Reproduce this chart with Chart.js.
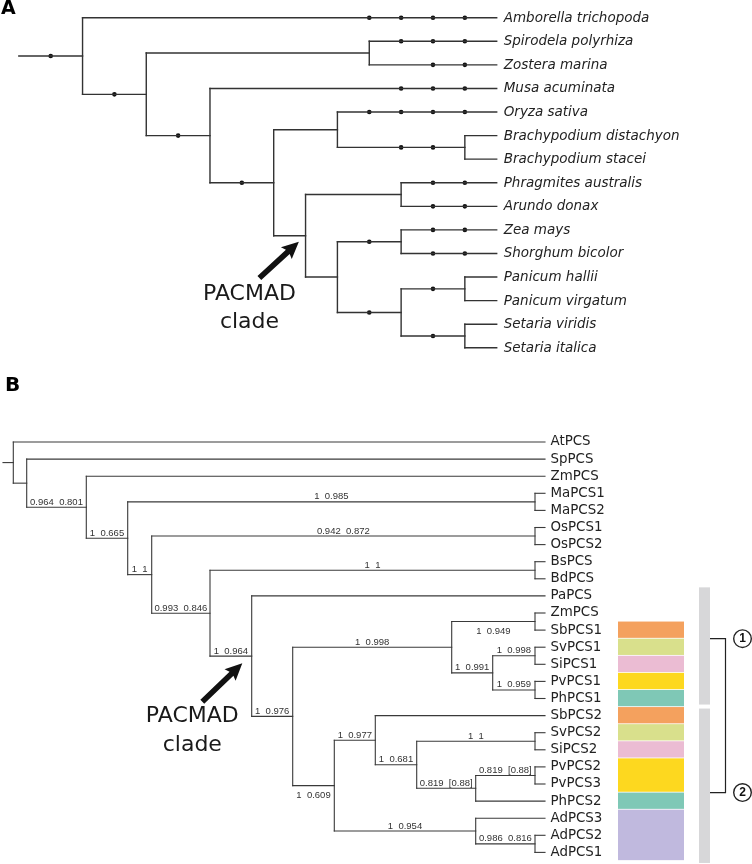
<!DOCTYPE html>
<html lang="en">
<head>
  <meta charset="UTF-8">
  <title>PCS phylogeny</title>
  <script src="https://cdn.jsdelivr.net/npm/chart.js"></script>
  <style>
    body { margin: 0; background: #fff; }
    canvas { display: block; }
  </style>
</head>
<body>
  <canvas id="treeA" width="752" height="370"></canvas>
  <canvas id="treeB" width="752" height="494"></canvas>

  <script>
    // ---- Panel A: species tree (x = depth step, y = tip row) ----
    const speciesA = ['Amborella trichopoda', 'Spirodela polyrhiza', 'Zostera marina', 'Musa acuminata',
      'Oryza sativa', 'Brachypodium distachyon', 'Brachypodium stacei', 'Phragmites australis',
      'Arundo donax', 'Zea mays', 'Shorghum bicolor', 'Panicum hallii', 'Panicum virgatum',
      'Setaria viridis', 'Setaria italica'];
    const tipDepthA = 15;
    // internal nodes; numbers in kids are tip rows
    const nodeIdA = ['root', 'n1', 'n2', 'sz', 'n3', 'n4', 'ob', 'bb', 'n5', 'pa', 'n6', 'zs', 'ps', 'pn', 'st'];
    const nodeDepthA = [0, 2, 4, 11, 6, 8, 10, 14, 9, 12, 10, 12, 12, 14, 14];
    const nodeKidsA = [['n1'], [0, 'n2'], ['sz', 'n3'], [1, 2], [3, 'n4'], ['ob', 'n5'], [4, 'bb'], [5, 6],
      ['pa', 'n6'], [7, 8], ['zs', 'ps'], [9, 10], ['pn', 'st'], [11, 12], [13, 14]];
    // dots sitting on the branch that leads to each listed node / tip
    const dotBranchA = ['n1', 'n2', 'n3', 'n4', 0, 1, 2, 3, 4, 'bb', 7, 8, 'zs', 'ps', 9, 10, 'pn', 'st'];
    const dotDepthsA = [[1], [3], [5], [7], [11, 12, 13, 14], [12, 13, 14], [13, 14], [12, 13, 14],
      [11, 12, 13, 14], [12, 13], [13, 14], [13, 14], [11], [11], [13, 14], [13, 14], [13], [13]];

    // ---- Panel B: PCS gene tree ----
    const genesB = ['AtPCS', 'SpPCS', 'ZmPCS', 'MaPCS1', 'MaPCS2', 'OsPCS1', 'OsPCS2', 'BsPCS', 'BdPCS',
      'PaPCS', 'ZmPCS', 'SbPCS1', 'SvPCS1', 'SiPCS1', 'PvPCS1', 'PhPCS1', 'SbPCS2', 'SvPCS2', 'SiPCS2',
      'PvPCS2', 'PvPCS3', 'PhPCS2', 'AdPCS3', 'AdPCS2', 'AdPCS1'];
    const tipDepthB = 545;
    const nodeIdB = ['root', 'r', 'n1', 'n2', 'n3', 'ma', 'n4', 'os', 'n5', 'bs', 'n6', 'n7', 'n8', 'zs',
      'n9', 'ss1', 'pp1', 'n10', 'n11', 'n12', 'ss2', 'n13', 'pv', 'n14', 'ad'];
    const nodeDepthB = [3, 13.3, 26.7, 86.3, 127.7, 535, 151.7, 535, 210, 535, 251.7, 292.7, 451.7, 535,
      492.7, 535, 535, 334.3, 375.3, 416.7, 535, 475.7, 535, 475.7, 535];
    const nodeKidsB = [['r'], [0, 'n1'], [1, 'n2'], [2, 'n3'], ['ma', 'n4'], [3, 4], ['os', 'n5'], [5, 6],
      ['bs', 'n6'], [7, 8], [9, 'n7'], ['n8', 'n10'], ['zs', 'n9'], [10, 11], ['ss1', 'pp1'], [12, 13],
      [14, 15], ['n11', 'n14'], [16, 'n12'], ['ss2', 'n13'], [17, 18], ['pv', 21], [19, 20], [22, 'ad'], [23, 24]];
    const supportNodeB = ['n2', 'n3', 'n4', 'n5', 'n6', 'n7', 'ma', 'os', 'bs', 'n8', 'zs', 'n9', 'ss1', 'pp1',
      'n10', 'n11', 'n12', 'n13', 'ss2', 'pv', 'n14', 'ad'];
    const supportTextB = ['0.964  0.801', '1  0.665', '1  1', '0.993  0.846', '1  0.964', '1  0.976',
      '1  0.985', '0.942  0.872', '1  1', '1  0.998', '1  0.949', '1  0.991', '1  0.998', '1  0.959',
      '1  0.609', '1  0.977', '1  0.681', '0.819  [0.88]', '1  1', '0.819  [0.88]', '1  0.954', '0.986  0.816'];
    const supportBelowB = ['zs', 'n10'];
    // species colour strip (tip rows)
    const stripRowsB = [11, 12, 13, 14, 15, 16, 17, 18, 19, 20, 21, 22, 23, 24];
    const stripColorsB = ['#f4a15e', '#d9e08c', '#ebbcd3', '#fdd81f', '#7fc8b6', '#f4a15e', '#d9e08c',
      '#ebbcd3', '#fdd81f', '#fdd81f', '#7fc8b6', '#c0b9de', '#c0b9de', '#c0b9de'];
    const groupRowsB = [[9, 15], [16, 24]];
    const groupBracketB = [11.5, 20.5];
    const groupNamesB = ['1', '2'];

    // place every node: x = depth, y = mean of children rows
    function layout(ids, depths, kids, tipDepth) {
      const pos = {};
      function place(key) {
        if (typeof key === 'number') return (pos['t' + key] = { x: tipDepth, y: key });
        if (pos[key]) return pos[key];
        const i = ids.indexOf(key);
        const ys = kids[i].map(k => place(k).y);
        return (pos[key] = { x: depths[i], y: ys.reduce((a, b) => a + b, 0) / ys.length });
      }
      ids.forEach(place);
      const segs = [];
      ids.forEach((id, i) => {
        const p = pos[id];
        const ch = kids[i].map(k => pos[typeof k === 'number' ? 't' + k : k]);
        if (ch.length > 1) {
          segs.push([{ x: p.x, y: Math.min(...ch.map(c => c.y)) }, { x: p.x, y: Math.max(...ch.map(c => c.y)) }]);
        }
        ch.forEach(c => segs.push([{ x: p.x, y: c.y }, { x: c.x, y: c.y }]));
      });
      return { pos, segs };
    }
    const keyOf = k => (typeof k === 'number' ? 't' + k : k);

    function parentDepth(ids, depths, kids, key) {
      const i = kids.findIndex(list => list.includes(key));
      return depths[i];
    }

    function drawArrow(ctx, x0, y0, x1, y1) {
      const a = Math.atan2(y1 - y0, x1 - x0), len = Math.hypot(x1 - x0, y1 - y0);
      ctx.save();
      ctx.translate(x0, y0);
      ctx.rotate(a);
      ctx.fillStyle = '#111';
      ctx.beginPath();
      ctx.moveTo(0, -2.8);
      ctx.lineTo(len - 15, -2.8);
      ctx.lineTo(len - 17, -8);
      ctx.lineTo(len, 0);
      ctx.lineTo(len - 17, 8);
      ctx.lineTo(len - 15, 2.8);
      ctx.lineTo(0, 2.8);
      ctx.closePath();
      ctx.fill();
      ctx.restore();
    }

    function lineSets(segs, color, width) {
      return segs.map(s => ({
        type: 'scatter', data: s, showLine: true, borderColor: color, borderWidth: width,
        pointRadius: 0, clip: false, borderCapStyle: 'square'
      }));
    }

    function baseOptions(xmin, xmax, ymin, ymax) {
      return {
        responsive: false, animation: false, events: [],
        layout: { padding: 0 },
        scales: {
          x: { type: 'linear', min: xmin, max: xmax, display: false },
          y: { type: 'linear', min: ymin, max: ymax, reverse: true, display: false }
        },
        plugins: { legend: { display: false }, tooltip: { enabled: false } }
      };
    }

    // ---------- Chart A ----------
    const treeA = layout(nodeIdA, nodeDepthA, nodeKidsA, tipDepthA);
    const dotsA = [];
    dotBranchA.forEach((k, i) => dotDepthsA[i].forEach(d => dotsA.push({ x: d, y: treeA.pos[keyOf(k)].y })));

    new Chart(document.getElementById('treeA'), {
      type: 'scatter',
      data: {
        datasets: [
          ...lineSets(treeA.segs, '#333', 1.4),
          { data: dotsA, pointRadius: 2.3, backgroundColor: '#111', borderWidth: 0, showLine: false, clip: false }
        ]
      },
      options: baseOptions(-15 / 32.2, 737 / 32.2, -14 / 24.1, 356 / 24.1),
      plugins: [{
        id: 'labelsA',
        afterDraw(chart) {
          const ctx = chart.ctx, xs = chart.scales.x, ys = chart.scales.y;
          ctx.save();
          ctx.fillStyle = '#000';
          ctx.font = 'bold 19px "DejaVu Sans", sans-serif';
          ctx.textBaseline = 'top';
          ctx.fillText('A', 1, 0);
          ctx.font = 'italic 13.5px "DejaVu Sans", sans-serif';
          ctx.fillStyle = '#222';
          ctx.textBaseline = 'middle';
          speciesA.forEach((s, i) => ctx.fillText(s, xs.getPixelForValue(tipDepthA) + 7, ys.getPixelForValue(i) + 0.5));
          drawArrow(ctx, xs.getPixelForValue(7.55), ys.getPixelForValue(11.04), xs.getPixelForValue(8.79), ys.getPixelForValue(9.5));
          ctx.font = '22px "DejaVu Sans", sans-serif';
          ctx.textAlign = 'center';
          ctx.fillStyle = '#1a1a1a';
          ctx.fillText('PACMAD', xs.getPixelForValue(7.24), ys.getPixelForValue(11.74));
          ctx.fillText('clade', xs.getPixelForValue(7.24), ys.getPixelForValue(12.9));
          ctx.restore();
        }
      }]
    });

    // ---------- Chart B ----------
    const treeB = layout(nodeIdB, nodeDepthB, nodeKidsB, tipDepthB);

    new Chart(document.getElementById('treeB'), {
      type: 'scatter',
      data: { datasets: lineSets(treeB.segs, '#3a3a3a', 1.1) },
      options: baseOptions(0, 752, -72 / 17.1, 422 / 17.1),
      plugins: [{
        id: 'labelsB',
        beforeDatasetsDraw(chart) {
          const ctx = chart.ctx, xs = chart.scales.x, ys = chart.scales.y;
          ctx.save();
          // colour strip, neighbouring rows of one colour drawn as one block
          const x0 = xs.getPixelForValue(618), w = xs.getPixelForValue(684) - x0;
          let start = 0;
          stripRowsB.forEach((r, i) => {
            if (stripColorsB[i + 1] === stripColorsB[i]) return;
            const y0 = ys.getPixelForValue(stripRowsB[start] - 0.5), y1 = ys.getPixelForValue(r + 0.5);
            ctx.fillStyle = stripColorsB[i];
            ctx.fillRect(x0, y0, w, y1 - y0 - 0.8);
            start = i + 1;
          });
          // grey group bars
          ctx.fillStyle = '#d7d7d9';
          groupRowsB.forEach((g, i) => {
            const y0 = ys.getPixelForValue(g[0] - 0.5) + (i ? 1.5 : 0);
            const y1 = ys.getPixelForValue(g[1] + 0.5) - (i ? -2 : 2.5);
            ctx.fillRect(xs.getPixelForValue(699), y0, xs.getPixelForValue(710) - xs.getPixelForValue(699), y1 - y0);
          });
          ctx.restore();
        },
        afterDraw(chart) {
          const ctx = chart.ctx, xs = chart.scales.x, ys = chart.scales.y;
          ctx.save();
          ctx.fillStyle = '#000';
          ctx.font = 'bold 20px "DejaVu Sans", sans-serif';
          ctx.textBaseline = 'top';
          ctx.fillText('B', 5, 6);
          // tip names
          ctx.font = '13.4px "DejaVu Sans", sans-serif';
          ctx.fillStyle = '#222';
          ctx.textBaseline = 'middle';
          genesB.forEach((g, i) => ctx.fillText(g, xs.getPixelForValue(tipDepthB) + 5.5, ys.getPixelForValue(i)));
          // support values
          ctx.font = '9.5px "Liberation Sans", Arial, sans-serif';
          ctx.textAlign = 'center';
          ctx.textBaseline = 'alphabetic';
          ctx.fillStyle = '#333';
          supportNodeB.forEach((k, i) => {
            const p = treeB.pos[k];
            const px = parentDepth(nodeIdB, nodeDepthB, nodeKidsB, k);
            const cx = (xs.getPixelForValue(px) + xs.getPixelForValue(p.x)) / 2;
            const y = ys.getPixelForValue(p.y) + (supportBelowB.includes(k) ? 12 : -2.5);
            ctx.fillText(supportTextB[i], cx, y);
          });
          // bracket joining the two groups
          const bx0 = xs.getPixelForValue(710), bx1 = xs.getPixelForValue(725.5);
          const by0 = ys.getPixelForValue(groupBracketB[0]), by1 = ys.getPixelForValue(groupBracketB[1]);
          ctx.strokeStyle = '#222';
          ctx.lineWidth = 1.2;
          ctx.beginPath();
          ctx.moveTo(bx0, by0); ctx.lineTo(bx1, by0); ctx.lineTo(bx1, by1); ctx.lineTo(bx0, by1);
          ctx.stroke();
          ctx.font = 'bold 12px "Liberation Sans", Arial, sans-serif';
          ctx.textBaseline = 'middle';
          groupBracketB.forEach((r, i) => {
            const cx = xs.getPixelForValue(742.5), cy = ys.getPixelForValue(r);
            ctx.beginPath();
            ctx.arc(cx, cy, 8.8, 0, Math.PI * 2);
            ctx.lineWidth = 1.4;
            ctx.stroke();
            ctx.fillStyle = '#111';
            ctx.fillText(groupNamesB[i], cx, cy + 0.5);
          });
          // PACMAD arrow
          drawArrow(ctx, xs.getPixelForValue(202.3), ys.getPixelForValue(15.19), xs.getPixelForValue(242.3), ys.getPixelForValue(12.94));
          ctx.font = '22px "DejaVu Sans", sans-serif';
          ctx.fillStyle = '#1a1a1a';
          ctx.fillText('PACMAD', xs.getPixelForValue(192.3), ys.getPixelForValue(16.06));
          ctx.fillText('clade', xs.getPixelForValue(192.3), ys.getPixelForValue(17.72));
          ctx.restore();
        }
      }]
    });
  </script>
</body>
</html>
